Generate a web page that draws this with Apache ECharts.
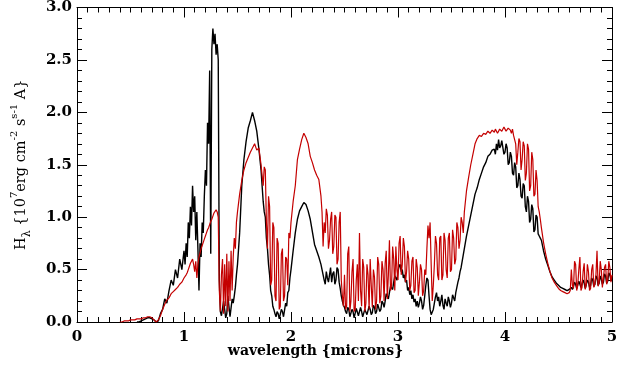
<!DOCTYPE html>
<html><head><meta charset="utf-8">
<script src="https://cdn.jsdelivr.net/npm/echarts/dist/echarts.min.js"></script>
<style>html,body{margin:0;padding:0;background:#fff}#c{width:631px;height:367px}</style>
</head><body><div id="c"></div>
<script>
// wavelength in microns
const wavelength = [
 0.40,0.42,0.44,0.46,0.48,0.50,0.52,0.54,0.56,0.58,
 0.60,0.62,0.64,0.66,0.68,0.70,0.72,0.74,0.76,0.78,
 0.80,0.82,0.84,0.86,0.88,0.90,0.92,0.94,0.96,0.98,
 1.00,1.01,1.02,1.03,1.04,1.05,1.06,1.07,1.08,1.09,
 1.10,1.11,1.12,1.13,1.14,1.15,1.16,1.17,1.18,1.19,
 1.20,1.21,1.22,1.23,1.24,1.25,1.26,1.27,1.28,1.29,
 1.30,1.31,1.32,1.33,1.34,1.35,1.36,1.37,1.38,1.39,
 1.40,1.41,1.42,1.43,1.44,1.45,1.46,1.47,1.48,1.49,
 1.50,
 1.52,1.54,1.56,1.58,1.60,1.62,1.64,1.66,1.68,1.70,1.72,
 1.74,1.75,1.76,1.77,1.78,1.79,1.80,1.81,1.82,1.83,
 1.84,1.85,1.86,1.87,1.88,1.89,1.90,1.91,1.92,1.93,
 1.94,1.95,1.96,1.97,1.98,1.99,2.00,
 2.02,2.04,2.06,2.08,2.10,2.12,2.14,2.16,2.18,2.20,2.22,2.24,2.26,
 2.28,2.29,2.30,2.31,2.32,2.33,2.34,2.35,2.36,2.37,
 2.38,2.39,2.40,2.41,2.42,2.43,2.44,2.45,2.46,2.47,
 2.48,2.49,2.50,2.51,2.52,2.53,2.54,2.55,2.56,2.57,
 2.58,2.59,2.60,2.61,2.62,2.63,2.64,2.65,2.66,2.67,
 2.68,2.69,2.70,2.71,2.72,2.73,2.74,2.75,2.76,2.77,
 2.78,2.79,2.80,2.81,2.82,2.83,2.84,2.85,2.86,2.87,
 2.88,2.89,2.90,2.91,2.92,2.93,2.94,2.95,2.96,2.97,
 2.98,2.99,3.00,3.01,3.02,3.03,3.04,3.05,3.06,3.07,
 3.08,3.09,3.10,3.11,3.12,3.13,3.14,3.15,3.16,3.17,
 3.18,3.19,3.20,3.21,3.22,3.23,3.24,3.25,3.26,3.27,
 3.28,3.29,3.30,3.31,3.32,3.33,3.34,3.35,3.36,3.37,
 3.38,3.39,3.40,3.41,3.42,3.43,3.44,3.45,3.46,3.47,
 3.48,3.49,3.50,3.51,3.52,3.53,3.54,3.55,3.56,3.57,
 3.58,3.59,3.60,3.61,3.62,
 3.64,3.66,3.68,3.70,3.72,3.74,3.76,3.78,3.80,3.82,3.84,3.86,3.88,
 3.90,3.91,3.92,3.93,3.94,3.95,3.96,3.97,3.98,3.99,
 4.00,4.01,4.02,4.03,4.04,4.05,4.06,4.07,4.08,4.09,
 4.10,4.11,4.12,4.13,4.14,4.15,4.16,4.17,4.18,4.19,
 4.20,4.21,4.22,4.23,4.24,4.25,4.26,4.27,4.28,4.29,
 4.30,4.31,4.32,4.33,4.34,
 4.36,4.38,4.40,4.42,4.44,4.46,4.48,4.50,4.52,4.54,4.56,4.58,
 4.60,4.61,4.62,4.63,4.64,4.65,4.66,4.67,4.68,4.69,
 4.70,4.71,4.72,4.73,4.74,4.75,4.76,4.77,4.78,4.79,
 4.80,4.81,4.82,4.83,4.84,4.85,4.86,4.87,4.88,4.89,
 4.90,4.91,4.92,4.93,4.94,4.95,4.96,4.97,4.98,4.99,
 5.00
];
// black spectrum (H_lambda)
const fluxBlack = [
 null,null,null,null,null,null,null,null,0.00,0.00,
 0.01,0.02,0.03,0.04,0.04,0.03,0.02,0.00,0.01,0.08,
 0.12,0.22,0.18,0.30,0.40,0.35,0.50,0.42,0.60,0.50,
 0.68,0.55,0.75,0.62,0.95,0.80,1.10,0.92,1.30,1.05,
 1.20,0.78,1.05,0.70,0.30,0.75,0.62,0.95,0.85,1.20,
 1.45,1.30,1.90,1.70,2.40,0.65,2.60,2.80,2.65,2.75,
 2.55,2.65,2.50,0.40,0.10,0.06,0.05,0.20,0.12,0.04,
 0.08,0.25,0.15,0.05,0.06,0.22,0.18,0.25,0.33,0.45,
 0.55,
 0.85,1.30,1.55,1.72,1.85,1.92,2.00,1.92,1.82,1.65,1.45,
 1.15,1.05,1.00,0.80,0.70,0.55,0.45,0.30,0.25,0.15,
 0.12,0.08,0.05,0.10,0.08,0.03,0.04,0.12,0.10,0.05,
 0.06,0.18,0.15,0.28,0.30,0.42,0.50,
 0.68,0.85,0.98,1.06,1.10,1.14,1.12,1.06,0.98,0.86,0.74,0.68,0.62,
 0.55,0.50,0.45,0.40,0.36,0.48,0.42,0.38,0.45,0.52,
 0.38,0.46,0.48,0.36,0.40,0.52,0.50,0.38,0.32,0.25,
 0.20,0.16,0.14,0.10,0.08,0.14,0.12,0.05,0.06,0.12,
 0.10,0.04,0.05,0.13,0.12,0.06,0.07,0.14,0.10,0.05,
 0.06,0.12,0.13,0.07,0.08,0.15,0.12,0.07,0.09,0.16,
 0.14,0.08,0.10,0.17,0.16,0.10,0.12,0.20,0.18,0.14,
 0.20,0.27,0.26,0.22,0.28,0.34,0.35,0.31,0.38,0.44,
 0.45,0.40,0.48,0.53,0.55,0.48,0.50,0.42,0.45,0.38,
 0.40,0.30,0.33,0.26,0.30,0.22,0.26,0.19,0.22,0.15,
 0.20,0.14,0.18,0.24,0.20,0.12,0.16,0.25,0.35,0.42,
 0.40,0.25,0.12,0.07,0.07,0.12,0.18,0.24,0.28,0.20,
 0.24,0.15,0.20,0.26,0.16,0.12,0.22,0.18,0.15,0.24,
 0.20,0.14,0.18,0.26,0.25,0.20,0.28,0.33,0.38,0.42,
 0.48,0.52,0.58,0.64,0.70,
 0.82,0.92,1.02,1.12,1.22,1.28,1.36,1.42,1.48,1.52,1.58,1.60,1.64,
 1.65,1.60,1.70,1.64,1.74,1.66,1.68,1.73,1.72,1.60,
 1.62,1.70,1.66,1.50,1.52,1.62,1.58,1.42,1.40,1.52,
 1.48,1.28,1.30,1.42,1.36,1.20,1.18,1.32,1.30,1.10,
 1.05,1.20,1.15,0.95,0.98,1.12,1.08,0.86,0.88,1.02,
 1.00,0.84,0.82,0.80,0.78,
 0.68,0.60,0.54,0.48,0.43,0.40,0.37,0.35,0.33,0.32,0.31,0.30,
 0.31,0.32,0.33,0.31,0.34,0.38,0.36,0.32,0.33,0.39,
 0.38,0.33,0.34,0.40,0.37,0.32,0.33,0.40,0.38,0.33,
 0.35,0.42,0.40,0.34,0.36,0.44,0.42,0.35,0.37,0.44,
 0.41,0.36,0.38,0.46,0.44,0.37,0.39,0.47,0.45,0.40,
 0.42
];
// red spectrum (H_lambda)
const fluxRed = [
 0.00,0.00,0.01,0.01,0.01,0.02,0.02,0.02,0.03,0.03,
 0.03,0.04,0.04,0.05,0.05,0.04,0.02,0.00,0.02,0.06,
 0.12,0.17,0.21,0.23,0.27,0.29,0.31,0.33,0.36,0.38,
 0.42,0.43,0.45,0.47,0.50,0.53,0.56,0.58,0.60,0.55,
 0.48,0.58,0.42,0.55,0.62,0.66,0.70,0.73,0.76,0.79,
 0.82,0.85,0.88,0.90,0.93,0.96,0.98,1.01,1.04,1.05,
 1.07,1.05,1.00,0.30,0.10,0.45,0.60,0.08,0.55,0.15,
 0.65,0.10,0.58,0.20,0.68,0.30,0.62,0.80,0.70,0.95,
 1.05,
 1.22,1.35,1.45,1.52,1.57,1.62,1.66,1.70,1.64,1.66,1.50,
 1.30,1.48,1.45,0.95,0.70,1.20,1.10,0.35,0.40,0.95,
 0.90,0.25,0.20,0.80,0.75,0.12,0.15,0.65,0.70,0.20,
 0.25,0.62,0.60,0.35,0.85,0.80,0.95,
 1.15,1.30,1.55,1.65,1.74,1.80,1.76,1.70,1.58,1.52,1.45,1.40,1.36,
 1.20,1.05,0.72,0.95,0.85,1.08,1.02,0.70,0.78,0.98,
 1.05,0.65,0.72,1.02,1.00,0.55,0.60,0.95,1.05,0.40,
 0.25,0.15,0.45,0.12,0.15,0.65,0.72,0.10,0.20,0.48,
 0.60,0.10,0.12,0.40,0.55,0.20,0.85,0.30,0.15,0.60,
 0.52,0.10,0.18,0.55,0.45,0.12,0.60,0.35,0.14,0.50,
 0.43,0.12,0.20,0.62,0.55,0.18,0.25,0.58,0.50,0.20,
 0.56,0.68,0.22,0.45,0.78,0.30,0.35,0.72,0.60,0.30,
 0.72,0.50,0.40,0.75,0.82,0.45,0.55,0.80,0.72,0.38,
 0.48,0.68,0.60,0.30,0.35,0.58,0.62,0.28,0.30,0.60,
 0.52,0.25,0.38,0.55,0.50,0.25,0.30,0.50,0.45,0.70,
 0.92,0.80,0.95,0.55,0.20,0.35,0.55,0.82,0.75,0.45,
 0.40,0.80,0.82,0.40,0.45,0.85,0.78,0.50,0.42,0.80,
 0.85,0.48,0.50,0.88,0.80,0.55,0.60,0.95,0.90,0.70,
 0.78,1.00,0.95,0.85,1.05,
 1.25,1.38,1.50,1.60,1.70,1.75,1.78,1.77,1.80,1.79,1.82,1.80,1.83,
 1.81,1.84,1.83,1.80,1.82,1.84,1.85,1.82,1.83,1.86,
 1.84,1.82,1.82,1.85,1.85,1.83,1.80,1.84,1.78,1.74,
 1.70,1.50,1.62,1.75,1.72,1.45,1.55,1.72,1.68,1.35,
 1.42,1.70,1.65,1.25,1.30,1.62,1.55,1.20,1.22,1.45,
 1.35,1.10,1.05,0.98,0.90,
 0.76,0.65,0.56,0.48,0.42,0.38,0.35,0.32,0.30,0.29,0.28,0.27,
 0.28,0.30,0.50,0.35,0.32,0.58,0.55,0.30,0.35,0.50,
 0.62,0.30,0.33,0.48,0.56,0.31,0.36,0.55,0.48,0.30,
 0.32,0.50,0.55,0.33,0.36,0.45,0.68,0.34,0.38,0.58,
 0.50,0.33,0.34,0.52,0.55,0.36,0.40,0.58,0.52,0.38,
 0.45
];
const xRange = [0, 5];
const yRange = [0, 3];
const xTitle = 'wavelength {microns}';
const yTitle = 'H{sub|λ} {10{sup|7}erg cm{sup|-2} s{sup|s-1} A}';

if (wavelength.length !== fluxBlack.length || wavelength.length !== fluxRed.length) {
  console.error('length mismatch', wavelength.length, fluxBlack.length, fluxRed.length);
}
const FONT = 'DejaVu Serif';
function pairs(xs, ys) {
  const out = [];
  for (let i = 0; i < xs.length; i++) if (ys[i] !== null && ys[i] !== undefined) out.push([xs[i], ys[i]]);
  return out;
}
const lineStyle = { color: '#000', width: 1 };
function axisBase(extra) {
  return Object.assign({
    type: 'value',
    axisLine: { show: true, onZero: false, lineStyle },
    axisTick: { show: true, inside: true, length: 10, lineStyle },
    splitLine: { show: false },
    minorSplitLine: { show: false }
  }, extra);
}
const chart = echarts.init(document.getElementById('c'), null, { renderer: 'canvas' });
chart.setOption({
  animation: false,
  backgroundColor: '#fff',
  title: {
    text: xTitle, left: 'center', top: 344, padding: 0,
    textStyle: { fontFamily: FONT, fontWeight: 'bold', fontSize: 14, color: '#000' }
  },
  grid: { left: 77, right: 19, top: 6, bottom: 45 },
  xAxis: [
    axisBase({ position: 'bottom', min: xRange[0], max: xRange[1], interval: 1,
      minorTick: { show: true, splitNumber: 10, length: 5, lineStyle },
      axisLabel: { show: true, margin: 8, fontFamily: FONT, fontWeight: 'bold', fontSize: 15, color: '#000',
        formatter: v => String(v) } }),
    axisBase({ position: 'top', min: xRange[0], max: xRange[1], interval: 1,
      minorTick: { show: true, splitNumber: 10, length: 5, lineStyle },
      axisLabel: { show: false } })
  ],
  yAxis: [
    axisBase({ position: 'left', min: yRange[0], max: yRange[1], interval: 0.5,
      minorTick: { show: true, splitNumber: 5, length: 5, lineStyle },
      axisLabel: { show: true, margin: 5, fontFamily: FONT, fontWeight: 'bold', fontSize: 15, color: '#000',
        formatter: v => v.toFixed(1) },
      name: yTitle, nameLocation: 'middle', nameGap: 44,
      nameTextStyle: { fontFamily: FONT, fontSize: 14.5, color: '#000', lineHeight: 24,
        rich: {
          sup: { fontFamily: FONT, fontSize: 10, color: '#000', verticalAlign: 'top', lineHeight: 12 },
          sub: { fontFamily: FONT, fontSize: 11, color: '#000', verticalAlign: 'bottom', lineHeight: 12 }
        } } }),
    axisBase({ position: 'right', min: yRange[0], max: yRange[1], interval: 0.5,
      minorTick: { show: true, splitNumber: 5, length: 5, lineStyle },
      axisLabel: { show: false } })
  ],
  series: [
    { type: 'line', name: 'black', data: pairs(wavelength, fluxBlack), showSymbol: false,
      lineStyle: { color: '#000000', width: 1.4 }, itemStyle: { color: '#000' }, z: 2 },
    { type: 'line', name: 'red', data: pairs(wavelength, fluxRed), showSymbol: false,
      lineStyle: { color: '#c40000', width: 1.2 }, itemStyle: { color: '#c40000' }, z: 3 }
  ]
});
</script>
</body></html>
